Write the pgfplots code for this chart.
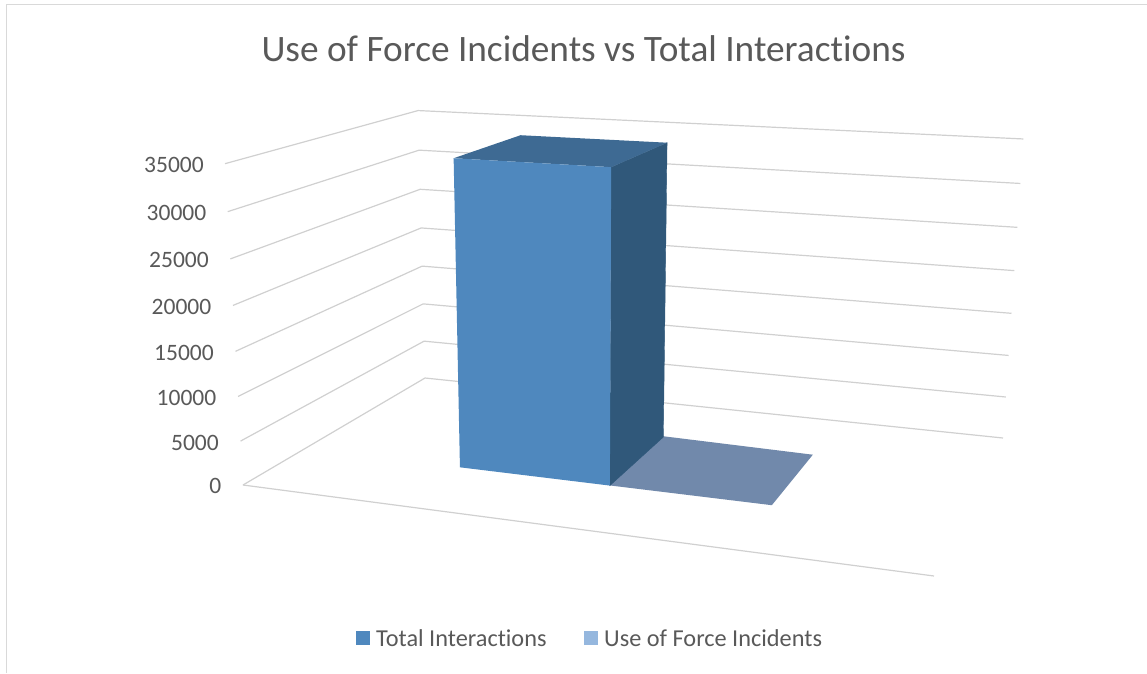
\documentclass[border=0pt]{standalone}
\usepackage{pgfplots}
\usepackage{pgfplotstable}
\usepackage{fontspec}
\pgfplotsset{compat=1.18}
\setmainfont[Ligatures=NoCommon]{Carlito}

% Perspective projection of (u, v, w): u across the floor, v into the depth, w the value
\newcommand{\den}{(-0.13275*\thisrow{u}+0.21135*\thisrow{v}-0.05*\thisrow{w}/35000+1)}
\newcommand{\px}{(567.01*\thisrow{u}+271.82*\thisrow{v}-29.25*\thisrow{w}/35000+243)/\den}
\newcommand{\py}{(14.54*\thisrow{u}-27.11*\thisrow{v}-329.5*\thisrow{w}/35000+485)/\den}

\definecolor{gridc}{HTML}{D0D0D0}
\definecolor{framec}{HTML}{D9D9D9}
\definecolor{textc}{HTML}{595959}
\definecolor{frontc}{HTML}{4F88BE}
\definecolor{topc}{HTML}{3E6A93}
\definecolor{sidec}{HTML}{30587A}
\definecolor{smalltop}{HTML}{7189AB}
\definecolor{legendb}{HTML}{95B7DE}

% Faces of the two columns: u and v of the corners, w the column's value
\pgfplotstableread{
u v w
0.262 0.30 0
0.500 0.30 0
0.500 0.30 34600
0.262 0.30 34600
}\barAfront
\pgfplotstableread{
u v w
0.262 0.30 34600
0.500 0.30 34600
0.500 0.705 34600
0.262 0.705 34600
}\barAtop
\pgfplotstableread{
u v w
0.500 0.30 0
0.500 0.705 0
0.500 0.705 34600
0.500 0.30 34600
}\barAside
\pgfplotstableread{
u v w
0.500 0.295 100
0.742 0.295 100
0.742 0.69 100
0.500 0.705 100
}\barBtop

\newcommand{\gridlevel}[1]{%
  \addplot[gridc, line width=1.2pt, line join=miter] table[x expr=\px, y expr=\py, row sep=\\]
    {u v w\\ 0 0 #1\\ 0 1 #1\\ 1 1 #1\\};%
}
\newcommand{\fs}[1]{\fontsize{#1}{#1}\selectfont}

\begin{document}
\begin{tikzpicture}
\path[use as bounding box] (0,0) rectangle (1147pt,673pt);
\begin{axis}[
  at={(0,0)}, anchor=south west,
  scale only axis, width=1147pt, height=673pt,
  xmin=0, xmax=1147, ymin=0, ymax=673, y dir=reverse,
  hide axis, clip=false,
]
% chart frame
\addplot[framec, line width=1.6pt] coordinates {(6.5,673) (6.5,4.5) (1147,4.5)};

% gridlines along the side and back walls
\gridlevel{0}
\gridlevel{5000}
\gridlevel{10000}
\gridlevel{15000}
\gridlevel{20000}
\gridlevel{25000}
\gridlevel{30000}
\gridlevel{35000}
% front edge of the floor
\addplot[gridc, line width=1.2pt] table[x expr=\px, y expr=\py, row sep=\\]
  {u v w\\ 0 0 0\\ 1 0 0\\};

% columns, far one first
\addplot[fill=smalltop, draw=none] table[x expr=\px, y expr=\py] {\barBtop} -- cycle;
\addplot[fill=sidec, draw=sidec, line width=0.4pt] table[x expr=\px, y expr=\py] {\barAside} -- cycle;
\addplot[fill=topc, draw=none] table[x expr=\px, y expr=\py] {\barAtop} -- cycle;
\addplot[fill=frontc, draw=none] table[x expr=\px, y expr=\py] {\barAfront} -- cycle;

% title
\node[text=textc, anchor=center] at (axis cs:583.5,49) {\fs{37.3}Use of Force Incidents vs Total Interactions};

% value labels
\node[text=textc, anchor=east, inner sep=0pt] at (axis cs:204,165) {\fs{23.5}35000};
\node[text=textc, anchor=east, inner sep=0pt] at (axis cs:206.5,213) {\fs{23.5}30000};
\node[text=textc, anchor=east, inner sep=0pt] at (axis cs:209,260) {\fs{23.5}25000};
\node[text=textc, anchor=east, inner sep=0pt] at (axis cs:211.5,307) {\fs{23.5}20000};
\node[text=textc, anchor=east, inner sep=0pt] at (axis cs:214,353) {\fs{23.5}15000};
\node[text=textc, anchor=east, inner sep=0pt] at (axis cs:216.5,398) {\fs{23.5}10000};
\node[text=textc, anchor=east, inner sep=0pt] at (axis cs:219,443) {\fs{23.5}5000};
\node[text=textc, anchor=east, inner sep=0pt] at (axis cs:221.5,486) {\fs{23.5}0};

% legend
\fill[frontc] (axis cs:356,631) rectangle (axis cs:370,645);
\node[text=textc, anchor=west, inner sep=0pt] at (axis cs:376,638) {\fs{24.3}Total Interactions};
\fill[legendb] (axis cs:584,631) rectangle (axis cs:598,645);
\node[text=textc, anchor=west, inner sep=0pt] at (axis cs:604,638) {\fs{24.3}Use of Force Incidents};
\end{axis}
\end{tikzpicture}
\end{document}
